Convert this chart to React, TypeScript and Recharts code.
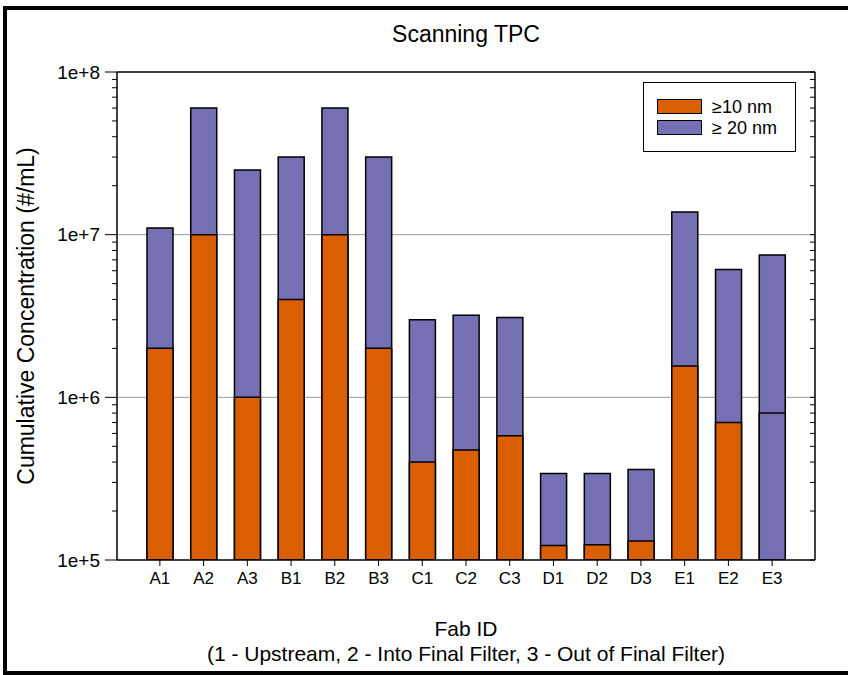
import React from 'react'
import {
  BarChart,
  Bar,
  Cell,
  XAxis,
  YAxis,
  CartesianGrid,
  ReferenceLine,
} from 'recharts'

// fab sampling points: 1 = upstream, 2 = into final filter, 3 = out of final filter
const fabs = ['A1', 'A2', 'A3', 'B1', 'B2', 'B3', 'C1', 'C2', 'C3', 'D1', 'D2', 'D3', 'E1', 'E2', 'E3']

// cumulative particle concentration, #/mL
const ge10nm = [2e6, 1e7, 1e6, 4e6, 1e7, 2e6, 4.0e5, 4.75e5, 5.8e5, 1.23e5, 1.24e5, 1.31e5, 1.56e6, 7.0e5, 8.0e5]
const ge20nm = [1.1e7, 6.0e7, 2.5e7, 3.0e7, 6.0e7, 3.0e7, 3.0e6, 3.2e6, 3.1e6, 3.4e5, 3.4e5, 3.6e5, 1.38e7, 6.1e6, 7.5e6]

const majorTicks = [1e5, 1e6, 1e7, 1e8]
const majorLabels = ['1e+5', '1e+6', '1e+7', '1e+8']
const gridValues = [1e6, 1e7]

// 2..9 minor ticks inside every decade
const minorTicks = majorTicks.slice(0, -1).flatMap((d) =>
  [2, 3, 4, 5, 6, 7, 8, 9].map((m) => m * d)
)
const allTicks = [...majorTicks, ...minorTicks].sort((a, b) => a - b)

const ORANGE = '#D95F02'
const PURPLE = '#7570B3'
const FONT = '"Liberation Sans", Arial, sans-serif'

const data = fabs.map((fab, i) => ({ fab, ge10: ge10nm[i], ge20: ge20nm[i] }))

function LeftTick({ x, y, payload }: any) {
  const idx = majorTicks.indexOf(payload.value)
  const major = idx >= 0
  return (
    <g>
      <line x1={x - (major ? 12 : 5)} x2={x} y1={y} y2={y} stroke="#000" strokeWidth={1} />
      {major && (
        <text x={x - 17} y={y} dy="0.35em" textAnchor="end" fontSize={19} fill="#000" fontFamily={FONT}>
          {majorLabels[idx]}
        </text>
      )}
    </g>
  )
}

function RightTick({ x, y }: any) {
  return <line x1={x - 5} x2={x} y1={y} y2={y} stroke="#000" strokeWidth={1} />
}

function LegendBox() {
  const rows = [
    { label: '≥10 nm', color: ORANGE },
    { label: '≥ 20 nm', color: PURPLE },
  ]
  return (
    <div
      style={{
        position: 'absolute',
        left: 643,
        top: 82,
        border: '1px solid #000',
        width: 153,
        height: 70,
        boxSizing: 'border-box',
        padding: '13px 0 0 13px',
        background: '#fff',
        fontFamily: FONT,
        fontSize: 18,
        lineHeight: 1,
      }}
    >
      {rows.map((r) => (
        <div key={r.label} style={{ display: 'flex', alignItems: 'center', height: 21 }}>
          <span
            style={{
              display: 'inline-block',
              width: 45,
              height: 15,
              boxSizing: 'border-box',
              border: '1.5px solid #000',
              background: r.color,
              marginRight: 10,
            }}
          />
          <span>{r.label}</span>
        </div>
      ))}
    </div>
  )
}

export default function App() {
  return (
    <div style={{ position: 'absolute', left: 0, top: 0, width: 848, height: 675, background: '#fff' }}>
      <div
        style={{
          position: 'absolute',
          left: 3,
          top: 6,
          width: 845,
          height: 669,
          boxSizing: 'border-box',
          borderLeft: '4px solid #000',
          borderTop: '4px solid #000',
          borderBottom: '4px solid #000',
        }}
      />
      <BarChart
        width={848}
        height={675}
        data={data}
        margin={{ top: 72, right: 32, bottom: 85, left: 57 }}
        barSize={26}
        barGap={-26}
        style={{ position: 'absolute', left: 0, top: 0 }}
      >
        <CartesianGrid
          yAxisId="left"
          vertical={false}
          horizontalValues={gridValues}
          stroke="#9a9a9a"
          strokeWidth={1}
        />
        <XAxis
          dataKey="fab"
          padding={{ left: 21, right: 21 }}
          height={30}
          tickSize={6}
          tickMargin={6}
          interval={0}
          axisLine={{ stroke: '#000', strokeWidth: 1.5 }}
          tickLine={{ stroke: '#000' }}
          tick={{ fontSize: 17, fill: '#000', fontFamily: FONT }}
        />
        <YAxis
          yAxisId="left"
          type="number"
          scale="log"
          domain={[1e5, 1e8]}
          allowDataOverflow
          ticks={allTicks}
          interval={0}
          width={60}
          tickSize={0}
          tickMargin={0}
          tickLine={false}
          axisLine={{ stroke: '#000', strokeWidth: 1.5 }}
          tick={<LeftTick />}
        />
        <YAxis
          yAxisId="right"
          orientation="right"
          type="number"
          scale="log"
          domain={[1e5, 1e8]}
          allowDataOverflow
          ticks={allTicks}
          interval={0}
          width={1}
          tickSize={0}
          tickMargin={0}
          tickLine={false}
          axisLine={{ stroke: '#000', strokeWidth: 1.5 }}
          tick={<RightTick />}
        />
        <ReferenceLine yAxisId="left" y={1e8} stroke="#000" strokeWidth={1.5} />
        <Bar
          yAxisId="left"
          dataKey="ge20"
          name="≥ 20 nm"
          fill={PURPLE}
          stroke="#000"
          strokeWidth={1.5}
          isAnimationActive={false}
        />
        <Bar
          yAxisId="left"
          dataKey="ge10"
          name="≥10 nm"
          fill={ORANGE}
          stroke="#000"
          strokeWidth={1.5}
          isAnimationActive={false}
        >
          {data.map((d) => (
            // E3's ≥10 nm bar is plotted in the ≥20 nm colour
            <Cell key={d.fab} fill={d.fab === 'E3' ? PURPLE : ORANGE} />
          ))}
        </Bar>
      </BarChart>
      <LegendBox />
      <svg
        width={848}
        height={675}
        style={{ position: 'absolute', left: 0, top: 0, pointerEvents: 'none' }}
        fontFamily={FONT}
        fill="#000"
      >
        <text x={466} y={34} textAnchor="middle" dominantBaseline="central" fontSize={23}>
          Scanning TPC
        </text>
        <text
          x={26}
          y={316}
          textAnchor="middle"
          dominantBaseline="central"
          fontSize={23}
          transform="rotate(-90 26 316)"
        >
          Cumulative Concentration (#/mL)
        </text>
        <text x={466} y={628} textAnchor="middle" dominantBaseline="central" fontSize={21}>
          Fab ID
        </text>
        <text x={466} y={653} textAnchor="middle" dominantBaseline="central" fontSize={21}>
          (1 - Upstream, 2 - Into Final Filter, 3 - Out of Final Filter)
        </text>
      </svg>
    </div>
  )
}
